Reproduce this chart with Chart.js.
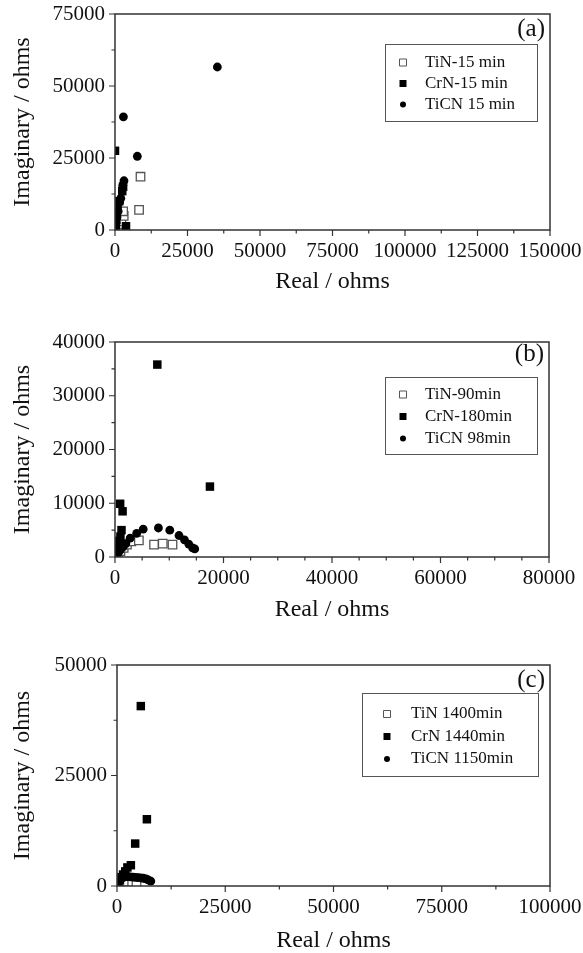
<!DOCTYPE html>
<html>
<head>
<meta charset="utf-8">
<script src="https://cdn.jsdelivr.net/npm/chart.js@4.4.1/dist/chart.umd.min.js"></script>
<style>
  body { margin: 0; background: #fff; }
  #wrap { position: relative; width: 583px; height: 953px; }
  canvas { position: absolute; left: 0; }
</style>
</head>
<body>
<div id="wrap">
  <canvas id="panelA" width="583" height="318" style="top:0"></canvas>
  <canvas id="panelB" width="583" height="318" style="top:318px"></canvas>
  <canvas id="panelC" width="583" height="317" style="top:636px"></canvas>
</div>
<script>
// (a) 15 min
var tinA_re  = [150, 400, 900, 1500, 2200, 3000, 2800, 8300, 8800];
var tinA_im  = [200, 600, 1200, 2000, 3000, 4900, 6500, 7000, 18500];
var crnA_re  = [0, 100, 200, 300, 400, 600, 900, 1500, 2500, 2800, 3800];
var crnA_im  = [27500, 500, 1200, 2200, 3500, 5000, 8100, 10000, 13500, 15000, 1300];
var ticnA_re = [35300, 2900, 7700, 3100, 2700, 2000, 1600, 1100, 700, 400, 150];
var ticnA_im = [56600, 39300, 25600, 17100, 15500, 11000, 9800, 6500, 4500, 2500, 800];

// (b) 90 / 180 / 98 min
var tinB_re  = [200, 500, 1000, 1600, 2200, 3000, 4400, 7200, 8800, 10600];
var tinB_im  = [200, 600, 1100, 1700, 2300, 2900, 3100, 2300, 2500, 2300];
var crnB_re  = [100, 200, 400, 600, 800, 1000, 1200, 1400, 950, 7800, 17500];
var crnB_im  = [300, 800, 1500, 2300, 3000, 3800, 5000, 8500, 9900, 35800, 13100];
var ticnB_re = [100, 300, 600, 1000, 1500, 2000, 2800, 4000, 5200, 8000, 10100, 11800, 12800, 13600, 14300, 14700];
var ticnB_im = [100, 400, 800, 1300, 1900, 2500, 3500, 4400, 5200, 5400, 5000, 4000, 3200, 2400, 1700, 1500];

// (c) 1400 / 1440 / 1150 min
var tinC_re  = [150, 400, 800, 1500, 2500, 3500, 4500];
var tinC_im  = [150, 400, 700, 900, 900, 850, 750];
var crnC_re  = [100, 300, 600, 1000, 1400, 1900, 2400, 3200, 4200, 6900, 5500];
var crnC_im  = [300, 800, 1400, 2000, 2600, 3300, 4200, 4700, 9600, 15100, 40700];
var ticnC_re = [100, 250, 450, 700, 1000, 1400, 1900, 2500, 3100, 3700, 4300, 4900, 5500, 6100, 6700, 7200, 7800];
var ticnC_im = [150, 500, 900, 1300, 1700, 2000, 2100, 2100, 2050, 2000, 1950, 1900, 1850, 1750, 1600, 1400, 1100];

Chart.defaults.font.family = '"Liberation Serif", "Times New Roman", serif';
Chart.defaults.color = '#111';
Chart.defaults.animation = false;

function pts(re, im) {
	return re.map(function (v, i) { return { x: v, y: im[i] }; });
}

// frame, outward ticks (major + minor), panel tag and boxed legend
var paperFrame = {
	id: 'paperFrame',
	afterDatasetsDraw: function (chart, args, o) {
		var ctx = chart.ctx, a = chart.chartArea, x = chart.scales.x, y = chart.scales.y;
		ctx.save();
		ctx.strokeStyle = '#333';
		ctx.lineWidth = 1.5;
		ctx.strokeRect(a.left, a.top, a.right - a.left, a.bottom - a.top);
		ctx.lineWidth = 1.2;
		ctx.beginPath();
		var v, p, len;
		for (v = x.min; v <= x.max + 1; v += o.xMinor) {
			p = x.getPixelForValue(v);
			len = (v % x.options.ticks.stepSize === 0) ? 6 : 3.5;
			ctx.moveTo(p, a.bottom); ctx.lineTo(p, a.bottom + len);
		}
		for (v = y.min; v <= y.max + 1; v += o.yMinor) {
			p = y.getPixelForValue(v);
			len = (v % y.options.ticks.stepSize === 0) ? 6 : 3.5;
			ctx.moveTo(a.left, p); ctx.lineTo(a.left - len, p);
		}
		ctx.stroke();

		ctx.fillStyle = '#111';
		ctx.font = '25px "Liberation Serif"';
		ctx.textAlign = 'right';
		ctx.textBaseline = 'middle';
		ctx.fillText(o.tag, a.right - 5, a.top + o.tagDy);

		var L = o.legend;
		ctx.lineWidth = 1;
		ctx.strokeStyle = '#555';
		ctx.strokeRect(L.x + 0.5, L.y + 0.5, L.w, L.h);
		ctx.font = '17px "Liberation Serif"';
		ctx.textAlign = 'left';
		chart.data.datasets.forEach(function (ds, i) {
			var cy = L.y + L.first + i * L.step, cx = L.x + L.mark;
			ctx.beginPath();
			if (ds.pointStyle === 'circle') {
				ctx.arc(cx, cy, 3, 0, Math.PI * 2);
			} else {
				ctx.rect(cx - 3.5, cy - 3.5, 7, 7);
			}
			ctx.fillStyle = ds.backgroundColor;
			ctx.fill();
			if (ds.borderWidth) { ctx.strokeStyle = ds.borderColor; ctx.lineWidth = 1; ctx.stroke(); }
			ctx.fillStyle = '#111';
			ctx.fillText(ds.label, L.x + L.text, cy);
		});
		ctx.restore();
	}
};

function makePanel(id, labels, series, cfg) {
	var styles = [
		{ pointStyle: 'rect', pointRadius: 6, backgroundColor: '#fff', borderColor: '#555', borderWidth: 1.3, order: 2 },
		{ pointStyle: 'rect', pointRadius: 6, backgroundColor: '#000', borderColor: '#000', borderWidth: 0, order: 1 },
		{ pointStyle: 'circle', pointRadius: 4.4, backgroundColor: '#000', borderColor: '#000', borderWidth: 0, order: 0 }
	];
	var datasets = series.map(function (s, i) {
		return Object.assign({ label: labels[i], data: s }, styles[i]);
	});
	return new Chart(document.getElementById(id), {
		type: 'scatter',
		data: { datasets: datasets },
		options: {
			responsive: false,
			layout: { padding: { top: cfg.top, right: cfg.right, left: 0, bottom: 0 } },
			plugins: {
				legend: { display: false },
				tooltip: { enabled: false },
				paperFrame: cfg.frame
			},
			scales: {
				x: {
					type: 'linear', min: 0, max: cfg.xMax,
					grid: { display: false, drawTicks: false }, border: { display: false },
					ticks: { stepSize: cfg.xStep, autoSkip: false, maxRotation: 0, padding: 9,
						font: { size: 21 }, callback: function (v) { return String(v); } },
					title: { display: true, text: 'Real / ohms', font: { size: 24 },
						padding: { top: 0, bottom: cfg.titlePad } },
					afterFit: function (s) { s.height = cfg.xH; s.paddingLeft = 0; s.paddingRight = 0; }
				},
				y: {
					type: 'linear', min: 0, max: cfg.yMax,
					grid: { display: false, drawTicks: false }, border: { display: false },
					ticks: { stepSize: cfg.yStep, autoSkip: false, padding: 10,
						font: { size: 21 }, callback: function (v) { return String(v); } },
					title: { display: true, text: 'Imaginary / ohms', font: { size: 24 },
						padding: { top: 8, bottom: 0 } },
					afterFit: function (s) { s.width = cfg.yW; s.paddingTop = 0; s.paddingBottom = 0; }
				}
			}
		},
		plugins: [paperFrame]
	});
}

makePanel('panelA', ['TiN-15 min', 'CrN-15 min', 'TiCN 15 min'],
	[pts(tinA_re, tinA_im), pts(crnA_re, crnA_im), pts(ticnA_re, ticnA_im)],
	{ top: 14, right: 33, yW: 115, xH: 88, titlePad: 22, xMax: 150000, xStep: 25000, yMax: 75000, yStep: 25000,
	  frame: { xMinor: 12500, yMinor: 12500, tag: '(a)', tagDy: 15,
	           legend: { x: 385, y: 44, w: 152, h: 77, first: 18.5, step: 21, mark: 18, text: 40 } } });

makePanel('panelB', ['TiN-90min', 'CrN-180min', 'TiCN 98min'],
	[pts(tinB_re, tinB_im), pts(crnB_re, crnB_im), pts(ticnB_re, ticnB_im)],
	{ top: 24, right: 34, yW: 115, xH: 79, titlePad: 12, xMax: 80000, xStep: 20000, yMax: 40000, yStep: 10000,
	  frame: { xMinor: 5000, yMinor: 5000, tag: '(b)', tagDy: 12,
	           legend: { x: 385, y: 59, w: 152, h: 77, first: 17.5, step: 22, mark: 18, text: 40 } } });

makePanel('panelC', ['TiN 1400min', 'CrN 1440min', 'TiCN 1150min'],
	[pts(tinC_re, tinC_im), pts(crnC_re, crnC_im), pts(ticnC_re, ticnC_im)],
	{ top: 29, right: 33, yW: 117, xH: 67, titlePad: -2, xMax: 100000, xStep: 25000, yMax: 50000, yStep: 25000,
	  frame: { xMinor: 12500, yMinor: 12500, tag: '(c)', tagDy: 15,
	           legend: { x: 362, y: 57, w: 176, h: 83, first: 21, step: 22.5, mark: 25, text: 49 } } });
</script>
</body>
</html>
